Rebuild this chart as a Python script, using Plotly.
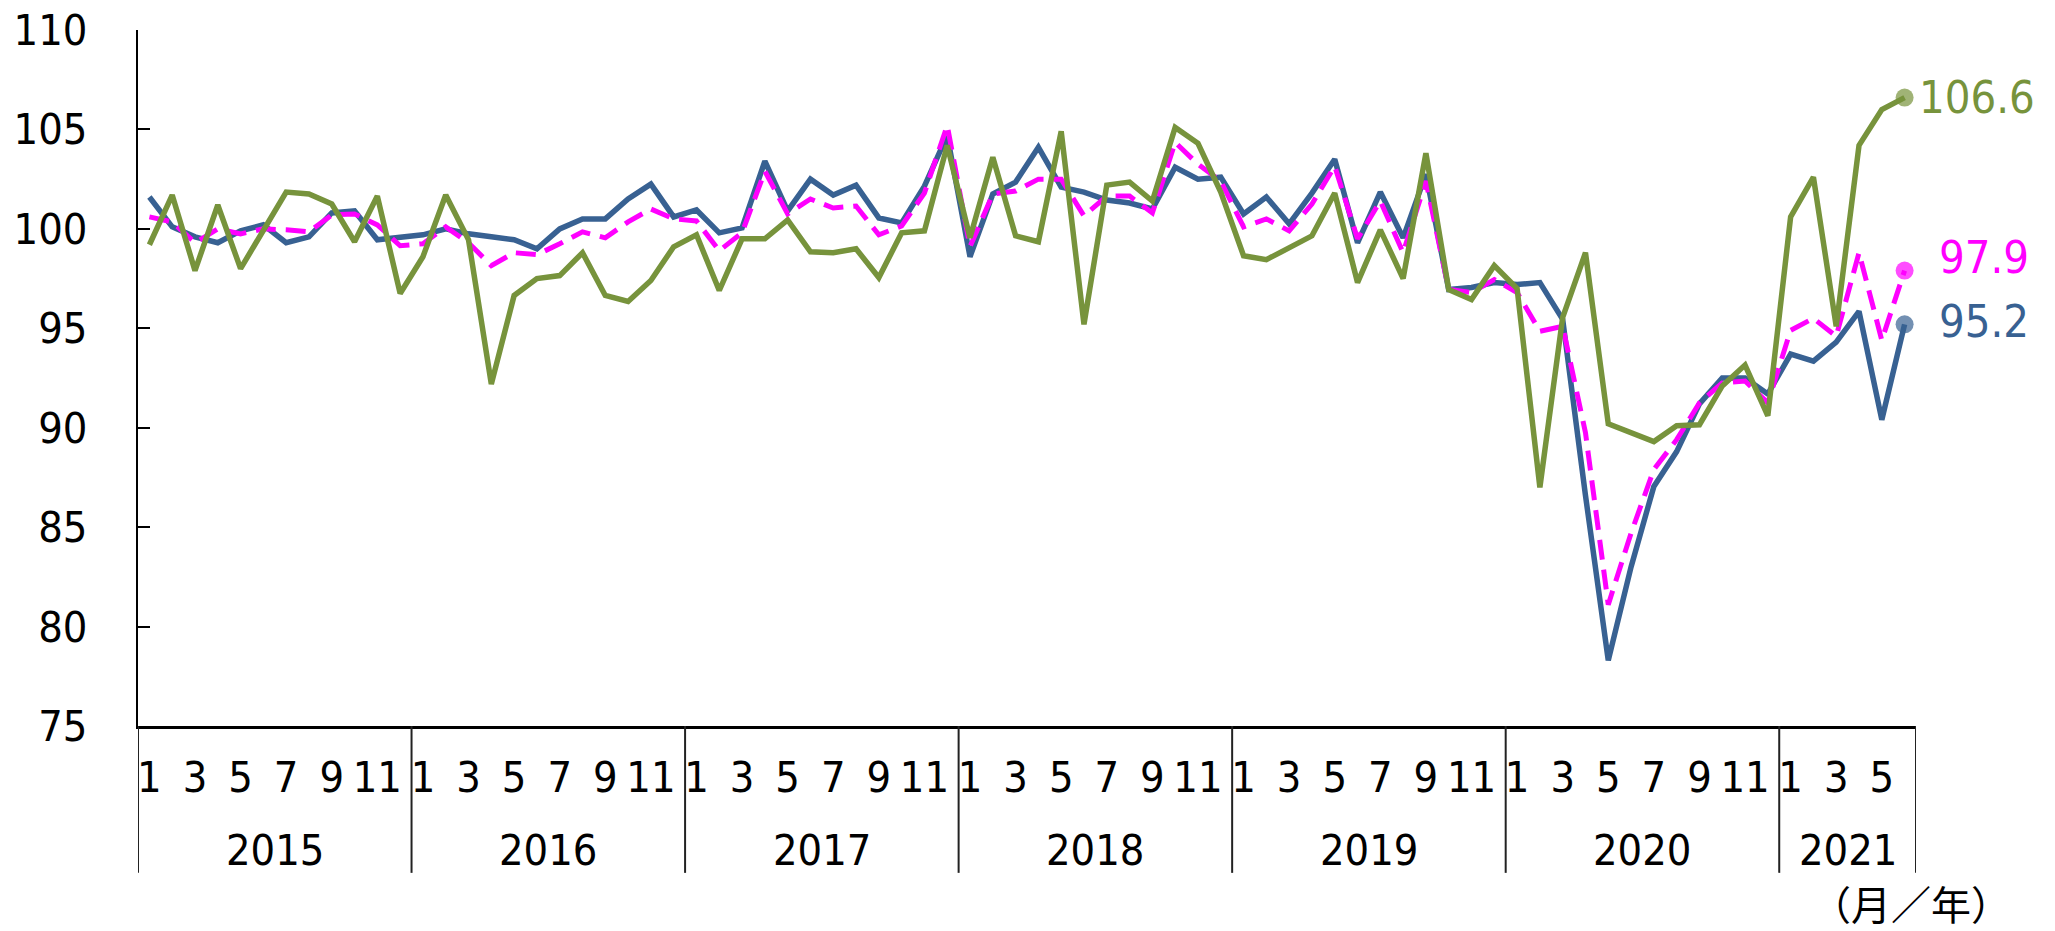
import plotly.graph_objects as go

# ---- data ----
years = [2015, 2016, 2017, 2018, 2019, 2020, 2021]
months_per_year = [12, 12, 12, 12, 12, 12, 6]

blue = [
    101.6, 100.1, 99.6, 99.3, 99.9, 100.2, 99.3, 99.6, 100.8, 100.9, 99.45, 99.6,
    99.7, 100.0, 99.75, 99.6, 99.45, 99.0, 100.0, 100.5, 100.5, 101.5, 102.25, 100.6,
    100.95, 99.8, 100.05, 103.4, 100.9, 102.5, 101.7, 102.2, 100.55, 100.3, 102.15, 104.7,
    98.6, 101.75, 102.35, 104.1, 102.1, 101.85, 101.45, 101.3, 101.0, 103.1, 102.5, 102.6,
    100.75, 101.6, 100.25, 101.8, 103.5, 99.3, 101.85, 99.55, 102.75, 96.95, 97.05, 97.3,
    97.2, 97.3, 95.45, 86.6, 78.3, 83.0, 87.05, 88.8, 91.2, 92.5, 92.5, 91.7,
    93.7, 93.35, 94.3, 95.85, 90.4, 95.2,
]
magenta = [
    100.6, 100.35, 99.3, 100.0, 99.75, 100.0, 99.95, 99.85, 100.7, 100.75, 100.2, 99.15,
    99.25, 100.1, 99.3, 98.15, 98.8, 98.7, 99.25, 99.85, 99.55, 100.35, 101.0, 100.5,
    100.4, 98.9, 99.8, 102.9, 100.75, 101.5, 101.05, 101.15, 99.7, 100.15, 101.8, 105.2,
    99.1, 101.75, 101.9, 102.5, 102.5, 100.65, 101.65, 101.65, 100.8, 104.35, 103.25, 102.4,
    100.1, 100.5, 99.9, 101.25, 103.15, 99.5, 101.4, 98.8, 102.4, 96.95, 96.8, 97.45,
    96.8, 94.85, 95.1, 89.75, 81.1, 84.7, 87.9, 89.4, 91.25, 92.25, 92.35, 91.25,
    94.9, 95.5, 94.6, 98.8, 94.4, 97.9,
]
green = [
    99.2, 101.7, 97.9, 101.2, 98.0, 99.9, 101.85, 101.75, 101.25, 99.35, 101.65, 96.75,
    98.6, 101.7, 99.45, 92.2, 96.65, 97.5, 97.65, 98.8, 96.65, 96.35, 97.4, 99.1,
    99.7, 96.9, 99.5, 99.5, 100.45, 98.85, 98.8, 99.0, 97.55, 99.8, 99.9, 104.2,
    99.55, 103.6, 99.65, 99.35, 104.9, 95.2, 102.2, 102.35, 101.4, 105.1, 104.3, 101.85,
    98.65, 98.45, 99.05, 99.65, 101.8, 97.3, 99.95, 97.5, 103.8, 96.95, 96.45, 98.15,
    97.0, 87.0, 95.55, 98.8, 90.2, 89.75, 89.3, 90.1, 90.15, 92.1, 93.15, 90.6,
    100.6, 102.6, 95.1, 104.2, 106.0, 106.6,
]

month_labels = []
for n in months_per_year:
    month_labels += [str(m) for m in range(1, n + 1)]
x = list(range(len(blue)))

# ---- style ----
FONT = "DejaVu Sans Condensed, Liberation Sans Narrow, sans-serif"
FS = 43
C_BLUE = "#386192"
C_MAG = "#FF00FF"
C_GREEN = "#77933C"

fig = go.Figure()

def add_series(vals, color, dash, width):
    sizes = [0] * (len(vals) - 1) + [18]
    fig.add_trace(go.Scatter(
        x=x, y=vals, mode="lines+markers",
        line=dict(color=color, width=width, dash=dash),
        marker=dict(size=sizes, color=color, line=dict(width=0)),
        showlegend=False, hoverinfo="y",
    ))

add_series(blue, C_BLUE, "solid", 5.5)
add_series(magenta, C_MAG, "20px,10px", 5)
add_series(green, C_GREEN, "solid", 5.5)

# end value labels
for vals, color, xs, ys in [(green, C_GREEN, 12, 0), (magenta, C_MAG, 32, 13), (blue, C_BLUE, 32, 3)]:
    fig.add_annotation(x=x[-1], y=vals[-1], xref="x", yref="y", text=f"{vals[-1]:.1f}",
                       showarrow=False, xanchor="left", yanchor="middle", xshift=xs, yshift=ys,
                       font=dict(family=FONT, size=FS + 2, color=color))

# year labels and dividers
start = 0
bounds = [-0.5]
for yr, n in zip(years, months_per_year):
    center = start + (n - 1) / 2
    fig.add_annotation(x=center, y=-0.178, xref="x", yref="paper", text=str(yr),
                       showarrow=False, xanchor="center", yanchor="middle",
                       font=dict(family=FONT, size=FS, color="black"))
    start += n
    bounds.append(start - 0.5)
for b in bounds:
    fig.add_shape(type="line", xref="x", yref="paper", x0=b, x1=b, y0=0, y1=-0.211,
                  line=dict(color="#222", width=2))

fig.add_annotation(x=0.997, y=-0.255, xref="paper", yref="paper", text="（月／年）",
                   showarrow=False, xanchor="center", yanchor="middle",
                   font=dict(family="Noto Sans CJK JP", size=40, color="black"))

fig.update_xaxes(range=[-0.5, len(x) - 0.5], showgrid=False, zeroline=False,
                 showline=True, linecolor="black", linewidth=2.5, ticks="",
                 tickvals=x[::2], ticktext=month_labels[::2], tickangle=0,
                 ticklabelstandoff=12, automargin=False,
                 tickfont=dict(family=FONT, size=FS, color="black"))
fig.update_yaxes(range=[75, 110], dtick=5, showgrid=False, zeroline=False,
                 showline=True, linecolor="black", linewidth=2, ticks="inside",
                 ticklen=12, tickwidth=2, tickcolor="black", ticklabelstandoff=40,
                 automargin=False,
                 tickfont=dict(family=FONT, size=FS, color="black"))

fig.update_layout(width=2055, height=931, plot_bgcolor="white", paper_bgcolor="white",
                  margin=dict(l=138, r=139, t=30, b=205), showlegend=False)

fig.write_html("out.html", config={"displayModeBar": False},
               post_script="document.body.style.margin='0';document.body.style.overflow='hidden';")
